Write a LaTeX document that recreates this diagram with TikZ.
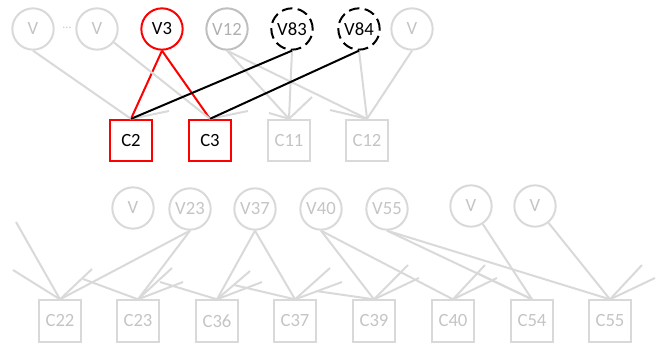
\documentclass[tikz,border=0pt]{standalone}
\usepackage{fontspec}
\setmainfont{Carlito}
\definecolor{lg}{HTML}{D9D9D9}
\definecolor{lgtext}{HTML}{C4C4C4}
\definecolor{mg}{HTML}{BFBFBF}
\definecolor{mgtext}{HTML}{B0B0B0}
\definecolor{hot}{HTML}{FF0000}
\tikzset{
  base/.style={line width=1.5pt, inner sep=0pt, font=\fontsize{14}{16}\selectfont},
  vnode/.style={base, circle, draw=lg, text=lgtext, minimum size=31pt},
  vmid/.style={vnode, draw=mg, text=mgtext},
  vhot/.style={vnode, draw=hot, text=black},
  vdash/.style={vnode, draw=black, text=black, dash pattern=on 8pt off 4pt},
  cnode/.style={base, rectangle, draw=lg, text=lgtext, minimum size=31pt},
  chot/.style={cnode, draw=hot, text=black},
  link/.style={draw=lg, line width=1.5pt},
  hotlink/.style={draw=hot, line width=1.5pt},
  blacklink/.style={draw=black, line width=1.5pt},
}
\begin{document}
\begin{tikzpicture}[x=0.75pt, y=-0.75pt]
\useasboundingbox (0,0) rectangle (661,347);

% upper variable row
\node[vnode] (va) at (33,29) {V};
\node[font=\fontsize{9}{10}\selectfont, text=lgtext] (dots) at (67,28) {...};
\node[vnode] (vb) at (97,29) {V};
\node[vhot]  (v3) at (162,29) {V3};
\node[vmid]  (v12) at (227,29) {V12};
\node[vdash] (v83) at (292,29) {V83};
\node[vdash] (v84) at (359,29) {V84};
\node[vnode] (vc) at (412,29) {V};

% upper check row
\node[chot]  (c2) at (131,140.5) {C2};
\node[chot]  (c3) at (210,140.5) {C3};
\node[cnode] (c11) at (289,140.5) {C11};
\node[cnode] (c12) at (367,140.5) {C12};

% lower variable row
\node[vnode] (vd) at (133,208) {V};
\node[vnode] (v23) at (190,209) {V23};
\node[vnode] (v37) at (255,209) {V37};
\node[vnode] (v40) at (321,209) {V40};
\node[vnode] (v55) at (387,209) {V55};
\node[vnode] (ve) at (471,206) {V};
\node[vnode] (vf) at (535,206) {V};

% lower check row
\node[cnode] (c22) at (60,321) {C22};
\node[cnode] (c23) at (138,321) {C23};
\node[cnode] (c36) at (217,321) {C36};
\node[cnode] (c37) at (295,321) {C37};
\node[cnode] (c39) at (374,321) {C39};
\node[cnode] (c40) at (453,321) {C40};
\node[cnode] (c54) at (532,321) {C54};
\node[cnode] (c55) at (610,321) {C55};

% free ends of edges leading out of view
\coordinate (s2r) at (169,111);
\coordinate (s3r) at (248,111);
\coordinate (s11l) at (269,113);
\coordinate (s11r) at (312,97);
\coordinate (s12l) at (330,110);

\coordinate (s22a) at (16,222);
\coordinate (s22b) at (13,270);
\coordinate (s22c) at (92,269);
\coordinate (s23l) at (83,279);
\coordinate (s23a) at (172,268);
\coordinate (s23b) at (183,282);
\coordinate (s36l) at (160,282);
\coordinate (s36a) at (250,271);
\coordinate (s36b) at (262,282);
\coordinate (s37l) at (234,285);
\coordinate (s37a) at (330,268);
\coordinate (s37b) at (342,282);
\coordinate (s39l) at (316,291);
\coordinate (s39a) at (408,265);
\coordinate (s39b) at (419,278);
\coordinate (s40a) at (485,265);
\coordinate (s40b) at (497,278);
\coordinate (s54l) at (477,273);
\coordinate (s55a) at (642,265);
\coordinate (s55b) at (655,278);

% highlighted variable V3
\draw[hotlink] (v3.south) -- (c2.north);
\draw[hotlink] (v3.south) -- (c3.north);

% upper gray edges
\draw[link] (va.south) -- (c2.north);
\draw[link] (vb) -- (c3.north);
\draw[link] (c2.north) -- (s2r);
\draw[link] (c3.north) -- (s3r);
\draw[link] (v12.south) -- (c11.north);
\draw[link] (v12.south) -- (c12.north);
\draw[link] (v83.south) -- (c11.north);
\draw[link] (v84.south) -- (c12.north);
\draw[link] (vc.south) -- (c12.north);
\draw[link] (s11l) -- (c11.north) -- (s11r);
\draw[link] (s12l) -- (c12.north);

% dashed variables into C2 and C3
\draw[blacklink] (v83.south) -- (c2.north);
\draw[blacklink] (v84.south) -- (c3.north);

% lower gray edges
\draw[link] (s22a) -- (c22.north);
\draw[link] (s22b) -- (c22.north) -- (s22c);
\draw[link] (v23.south) -- (c22.north);
\draw[link] (v23.south) -- (c23.north);
\draw[link] (s23l) -- (c23.north) -- (s23a);
\draw[link] (c23.north) -- (s23b);
\draw[link] (v37.south) -- (c36.north);
\draw[link] (s36l) -- (c36.north) -- (s36a);
\draw[link] (c36.north) -- (s36b);
\draw[link] (v37.south) -- (c37.north);
\draw[link] (s37l) -- (c37.north) -- (s37a);
\draw[link] (c37.north) -- (s37b);
\draw[link] (v40.south) -- (c39.north);
\draw[link] (s39l) -- (c39.north) -- (s39a);
\draw[link] (c39.north) -- (s39b);
\draw[link] (v40.south) -- (c40.north);
\draw[link] (c40.north) -- (s40a);
\draw[link] (c40.north) -- (s40b);
\draw[link] (v55.south) -- (c54.north);
\draw[link] (s54l) -- (c54.north);
\draw[link] (ve) -- (c54.north);
\draw[link] (v55.south) -- (c55.north);
\draw[link] (vf) -- (c55.north);
\draw[link] (c55.north) -- (s55a);
\draw[link] (c55.north) -- (s55b);
\end{tikzpicture}
\end{document}
